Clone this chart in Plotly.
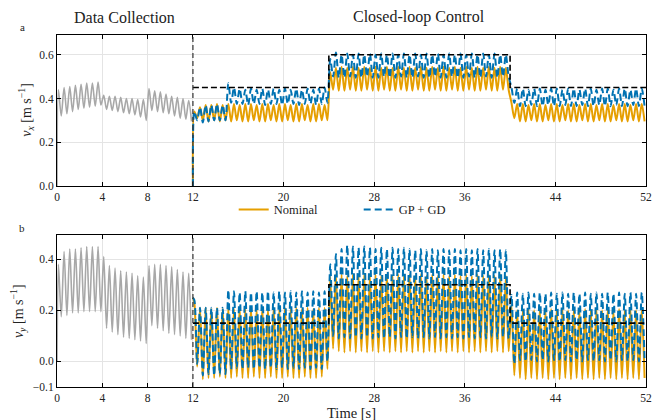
import plotly.graph_objects as go

# ---------------- data ----------------
period = 0.5          # oscillation period [s]
switch_time = 12.0    # data collection -> closed-loop control
t_end = 52.0

x_ticks = [0, 4, 8, 12, 20, 28, 36, 44, 52]
vx_ticks = [0.0, 0.2, 0.4, 0.6]
vx_tick_text = ["0.0", "0.2", "0.4", "0.6"]
vy_ticks = [-0.1, 0.0, 0.2, 0.4]
vy_tick_text = ["\u22120.1", "0.0", "0.2", "0.4"]

# reference (desired) velocity
ref_t = [12, 24, 24, 40, 40, 52]
ref_vx = [0.45, 0.45, 0.60, 0.60, 0.45, 0.45]
ref_vy = [0.15, 0.15, 0.30, 0.30, 0.15, 0.15]

# data collection phase: per-cycle peaks / troughs
dc_vx_start = 0.0
dc_vx_peak = [0.44, 0.45, 0.455, 0.46, 0.465, 0.47, 0.47, 0.475,
              0.415, 0.41, 0.41, 0.405, 0.40, 0.40, 0.395, 0.395,
              0.445, 0.435, 0.43, 0.42, 0.41, 0.405, 0.40, 0.39]
dc_vx_trough = [0.32, 0.33, 0.34, 0.35, 0.355, 0.36, 0.365, 0.37,
                0.35, 0.345, 0.34, 0.335, 0.33, 0.325, 0.315, 0.30,
                0.345, 0.34, 0.335, 0.33, 0.32, 0.31, 0.305, 0.295]
dc_vy_start = 0.0
dc_vy_peak = [0.38, 0.43, 0.44, 0.44, 0.445, 0.45, 0.45, 0.45,
              0.41, 0.375, 0.365, 0.355, 0.35, 0.345, 0.335, 0.33,
              0.375, 0.38, 0.38, 0.375, 0.37, 0.36, 0.35, 0.345]
dc_vy_trough = [0.175, 0.18, 0.19, 0.19, 0.195, 0.195, 0.195, 0.195,
                0.13, 0.115, 0.105, 0.095, 0.09, 0.085, 0.08, 0.07,
                0.14, 0.13, 0.12, 0.11, 0.105, 0.10, 0.09, 0.085]

# closed-loop phase: per-cycle peaks / troughs (12-24 s, 24-40 s, 40-52 s)
nom_vx_start = 0.0
nom_vx_peak = (
    [0.34, 0.36, 0.37, 0.37, 0.375, 0.37, 0.375, 0.375, 0.37, 0.375, 0.375, 0.37,
     0.375, 0.375, 0.37, 0.375, 0.375, 0.37, 0.375, 0.375, 0.37, 0.375, 0.375, 0.37]
    + [0.52, 0.54, 0.545, 0.54, 0.545, 0.54, 0.545, 0.54, 0.545, 0.54, 0.545, 0.54,
       0.545, 0.54, 0.545, 0.54, 0.545, 0.54, 0.545, 0.54, 0.545, 0.54, 0.545, 0.54,
       0.545, 0.54, 0.545, 0.54, 0.545, 0.54, 0.545, 0.54]
    + [0.38, 0.375, 0.375, 0.37, 0.375, 0.375, 0.37, 0.375, 0.375, 0.37, 0.375, 0.375,
       0.37, 0.375, 0.375, 0.37, 0.375, 0.375, 0.37, 0.375, 0.375, 0.37, 0.375, 0.375]
)
nom_vx_trough = (
    [0.31, 0.30, 0.295, 0.30, 0.295, 0.30, 0.295, 0.30, 0.295, 0.295, 0.30, 0.295,
     0.295, 0.30, 0.295, 0.295, 0.30, 0.295, 0.295, 0.30, 0.295, 0.295, 0.30, 0.30]
    + [0.44, 0.435, 0.435, 0.44, 0.435, 0.435, 0.44, 0.435, 0.435, 0.44, 0.435, 0.435,
       0.44, 0.435, 0.435, 0.44, 0.435, 0.435, 0.44, 0.435, 0.435, 0.44, 0.435, 0.435,
       0.44, 0.435, 0.435, 0.44, 0.435, 0.435, 0.44, 0.44]
    + [0.31, 0.295, 0.295, 0.30, 0.295, 0.295, 0.30, 0.295, 0.295, 0.30, 0.295, 0.295,
       0.30, 0.295, 0.295, 0.30, 0.295, 0.295, 0.30, 0.295, 0.295, 0.30, 0.295, 0.295]
)
gp_vx_start = 0.0
gp_vx_peak = (
    [0.34, 0.36, 0.37, 0.37, 0.375, 0.37, 0.47, 0.45, 0.445, 0.44, 0.445, 0.44,
     0.445, 0.44, 0.445, 0.44, 0.445, 0.44, 0.445, 0.44, 0.445, 0.44, 0.445, 0.45]
    + [0.58, 0.61, 0.60, 0.605, 0.60, 0.605, 0.60, 0.605, 0.60, 0.605, 0.60, 0.605,
       0.60, 0.605, 0.60, 0.605, 0.60, 0.605, 0.60, 0.605, 0.60, 0.605, 0.60, 0.605,
       0.60, 0.605, 0.60, 0.605, 0.60, 0.605, 0.60, 0.60]
    + [0.45, 0.445, 0.445, 0.44, 0.445, 0.445, 0.44, 0.445, 0.445, 0.44, 0.445, 0.445,
       0.44, 0.445, 0.445, 0.44, 0.445, 0.445, 0.44, 0.445, 0.445, 0.44, 0.445, 0.445]
)
gp_vx_trough = (
    [0.30, 0.29, 0.295, 0.30, 0.30, 0.30, 0.38, 0.375, 0.375, 0.37, 0.375, 0.375,
     0.37, 0.375, 0.375, 0.37, 0.375, 0.375, 0.37, 0.375, 0.375, 0.37, 0.375, 0.38]
    + [0.50, 0.495, 0.495, 0.50, 0.495, 0.495, 0.50, 0.495, 0.495, 0.50, 0.495, 0.495,
       0.50, 0.495, 0.495, 0.50, 0.495, 0.495, 0.50, 0.495, 0.495, 0.50, 0.495, 0.495,
       0.50, 0.495, 0.495, 0.50, 0.495, 0.495, 0.50, 0.50]
    + [0.38, 0.365, 0.365, 0.37, 0.365, 0.365, 0.37, 0.365, 0.365, 0.37, 0.365, 0.365,
       0.37, 0.365, 0.365, 0.37, 0.365, 0.365, 0.37, 0.365, 0.365, 0.37, 0.365, 0.365]
)
nom_vy_start = 0.25
nom_vy_peak = (
    [0.23, 0.21, 0.21, 0.205, 0.21, 0.205, 0.21, 0.205, 0.21, 0.205, 0.21, 0.205,
     0.21, 0.205, 0.21, 0.205, 0.21, 0.205, 0.21, 0.205, 0.21, 0.205, 0.21, 0.21]
    + [0.33, 0.34, 0.34, 0.335, 0.34, 0.335, 0.34, 0.335, 0.34, 0.335, 0.34, 0.335,
       0.34, 0.335, 0.34, 0.335, 0.34, 0.335, 0.34, 0.335, 0.34, 0.335, 0.34, 0.335,
       0.34, 0.335, 0.34, 0.335, 0.34, 0.335, 0.34, 0.335]
    + [0.22, 0.20, 0.20, 0.205, 0.20, 0.205, 0.20, 0.205, 0.20, 0.205, 0.20, 0.205,
       0.20, 0.205, 0.20, 0.205, 0.20, 0.205, 0.20, 0.205, 0.20, 0.205, 0.20, 0.205]
)
nom_vy_trough = (
    [-0.02, -0.07, -0.065, -0.065, -0.06, -0.065, -0.065, -0.06, -0.065, -0.065, -0.06, -0.065,
     -0.065, -0.06, -0.065, -0.065, -0.06, -0.065, -0.065, -0.06, -0.065, -0.065, -0.06, -0.03]
    + [0.05, 0.04, 0.035, 0.04, 0.035, 0.04, 0.035, 0.04, 0.035, 0.04, 0.035, 0.04,
       0.035, 0.04, 0.035, 0.04, 0.035, 0.04, 0.035, 0.04, 0.035, 0.04, 0.035, 0.04,
       0.035, 0.04, 0.035, 0.04, 0.035, 0.04, 0.035, 0.04]
    + [-0.055, -0.065, -0.07, -0.065, -0.07, -0.065, -0.07, -0.065, -0.07, -0.065, -0.07, -0.065,
       -0.07, -0.065, -0.07, -0.065, -0.07, -0.065, -0.07, -0.065, -0.07, -0.065, -0.07, -0.065]
)
gp_vy_start = 0.25
gp_vy_peak = (
    [0.24, 0.21, 0.21, 0.21, 0.21, 0.21, 0.28, 0.275, 0.27, 0.275, 0.27, 0.275,
     0.27, 0.275, 0.27, 0.275, 0.27, 0.275, 0.27, 0.275, 0.27, 0.275, 0.27, 0.275]
    + [0.38, 0.42, 0.44, 0.455, 0.45, 0.445, 0.45, 0.445, 0.44, 0.445, 0.44, 0.445,
       0.44, 0.445, 0.44, 0.435, 0.44, 0.435, 0.44, 0.435, 0.44, 0.435, 0.44, 0.435,
       0.44, 0.435, 0.44, 0.435, 0.44, 0.435, 0.44, 0.435]
    + [0.26, 0.27, 0.265, 0.27, 0.265, 0.27, 0.265, 0.27, 0.265, 0.27, 0.265, 0.27,
       0.265, 0.27, 0.265, 0.27, 0.265, 0.27, 0.265, 0.27, 0.265, 0.27, 0.265, 0.27]
)
gp_vy_trough = (
    [-0.01, -0.055, -0.05, -0.055, -0.05, -0.05, -0.03, -0.025, -0.03, -0.025, -0.03, -0.025,
     -0.03, -0.025, -0.03, -0.025, -0.03, -0.025, -0.03, -0.025, -0.03, -0.025, -0.03, 0.0]
    + [0.10, 0.09, 0.095, 0.09, 0.095, 0.09, 0.095, 0.09, 0.095, 0.09, 0.095, 0.09,
       0.095, 0.09, 0.095, 0.09, 0.095, 0.09, 0.095, 0.09, 0.095, 0.09, 0.095, 0.09,
       0.095, 0.09, 0.095, 0.09, 0.095, 0.09, 0.095, 0.09]
    + [-0.01, 0.005, 0.0, 0.005, 0.0, 0.005, 0.0, 0.005, 0.0, 0.005, 0.0, 0.005,
       0.0, 0.005, 0.0, 0.005, 0.0, 0.005, 0.0, 0.005, 0.0, 0.005, 0.0, 0.005]
)

# ---------------- styles ----------------
C_NOM = "#E69F00"
C_GP = "#0072B2"
C_DC = "#A8A8A8"
FONT = "Liberation Serif"


def cycles(t0, start, peaks, troughs):
    t, y = [t0], [start]
    for k, (p, q) in enumerate(zip(peaks, troughs)):
        t += [t0 + (k + 0.25) * period, t0 + (k + 0.75) * period]
        y += [p, q]
    return t, y


fig = go.Figure()

panels = [
    ("x", "y", dc_vx_start, dc_vx_peak, dc_vx_trough, nom_vx_start, nom_vx_peak, nom_vx_trough,
     gp_vx_start, gp_vx_peak, gp_vx_trough, ref_vx, True),
    ("x2", "y2", dc_vy_start, dc_vy_peak, dc_vy_trough, nom_vy_start, nom_vy_peak, nom_vy_trough,
     gp_vy_start, gp_vy_peak, gp_vy_trough, ref_vy, False),
]

for (xa, ya, dcs, dcp, dct, ns, npk, ntr, gs, gpk, gtr, ref, leg) in panels:
    t, y = cycles(0.0, dcs, dcp, dct)
    fig.add_trace(go.Scatter(x=t, y=y, mode="lines", xaxis=xa, yaxis=ya, showlegend=False,
                             line=dict(color=C_DC, width=1.6, shape="spline", smoothing=0.8)))
    t, y = cycles(switch_time, ns, npk, ntr)
    fig.add_trace(go.Scatter(x=t, y=y, mode="lines", xaxis=xa, yaxis=ya, name="Nominal",
                             showlegend=leg,
                             line=dict(color=C_NOM, width=2, shape="spline", smoothing=0.8)))
    t, y = cycles(switch_time, gs, gpk, gtr)
    fig.add_trace(go.Scatter(x=t, y=y, mode="lines", xaxis=xa, yaxis=ya, name="GP + GD",
                             showlegend=leg,
                             line=dict(color=C_GP, width=2, dash="7px,4px",
                                       shape="spline", smoothing=0.8)))
    fig.add_trace(go.Scatter(x=ref_t, y=ref, mode="lines", xaxis=xa, yaxis=ya, showlegend=False,
                             line=dict(color="black", width=1.6, dash="6px,3px")))
    fig.add_shape(type="line", x0=switch_time, x1=switch_time, y0=0, y1=1,
                  xref=xa, yref=ya + " domain",
                  line=dict(color="#333333", width=1.2, dash="5px,3px"))

axis_common = dict(
    showline=True, linecolor="black", linewidth=1, mirror="ticks",
    ticks="inside", ticklen=4, tickwidth=1, tickcolor="black",
    showgrid=True, gridcolor="#e4e4e4", gridwidth=1, zeroline=False,
    tickfont=dict(family=FONT, size=11.5, color="#222222"),
)

fig.update_layout(
    width=657, height=420,
    margin=dict(l=57, r=5, t=35, b=33),
    paper_bgcolor="white", plot_bgcolor="white",
    font=dict(family=FONT, color="#222222"),
    xaxis=dict(domain=[0, 1], range=[0, 52], anchor="y", tickvals=x_ticks,
               ticklabeloverflow="allow", **axis_common),
    yaxis=dict(domain=[0.571, 1], range=[0, 0.69], anchor="x", tickvals=vx_ticks,
               ticktext=vx_tick_text, **axis_common),
    xaxis2=dict(domain=[0, 1], range=[0, 52], anchor="y2", tickvals=x_ticks,
                ticklabeloverflow="allow", **axis_common),
    yaxis2=dict(domain=[0, 0.432], range=[-0.1, 0.495], anchor="x2", tickvals=vy_ticks,
                ticktext=vy_tick_text, **axis_common),
    legend=dict(orientation="h", x=0.3, xanchor="left", y=0.503, yanchor="middle",
                bgcolor="rgba(0,0,0,0)", font=dict(family=FONT, size=12.5, color="#222222"),
                entrywidth=80, entrywidthmode="pixels", tracegroupgap=0),
)

ann = [
    dict(text="Data Collection", x=0.115, y=1.049, size=16),
    dict(text="Closed-loop Control", x=0.614, y=1.05, size=16),
    dict(text="a", x=-0.059, y=1.023, size=11),
    dict(text="b", x=-0.059, y=0.452, size=11),
    dict(text="Time [s]", x=0.5, y=-0.075, size=14.5),
]
for a in ann:
    fig.add_annotation(text=a["text"], x=a["x"], y=a["y"], xref="paper", yref="paper",
                       showarrow=False, xanchor="center", yanchor="middle",
                       font=dict(family=FONT, size=a["size"], color="#222222"))

fig.add_annotation(text="<i>v<sub>x</sub></i> [m s<sup>\u22121</sup>]", x=-0.053, y=0.787,
                   xref="paper", yref="paper", showarrow=False, textangle=-90,
                   xanchor="center", yanchor="middle",
                   font=dict(family=FONT, size=14, color="#222222"))
fig.add_annotation(text="<i>v<sub>y</sub></i> [m s<sup>\u22121</sup>]", x=-0.066, y=0.216,
                   xref="paper", yref="paper", showarrow=False, textangle=-90,
                   xanchor="center", yanchor="middle",
                   font=dict(family=FONT, size=14, color="#222222"))

fig.write_html("out.html", config={"displayModeBar": False},
               post_script="document.body.style.margin='0';document.body.style.overflow='hidden';")
